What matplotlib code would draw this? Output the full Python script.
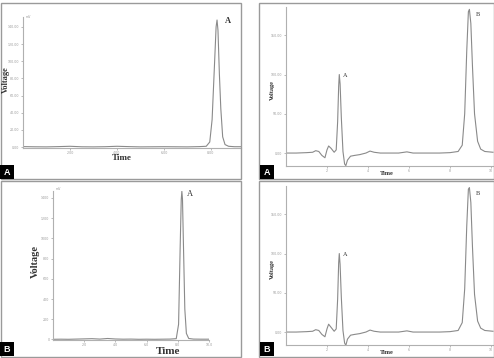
import matplotlib
matplotlib.use("Agg")
import matplotlib.pyplot as plt
from matplotlib.patches import Rectangle

W, H = 494, 358

# ---------------- data ----------------
# Panel top-left (A): single peak
tl_time = [0, 0.5, 1.0, 1.5, 2.0, 2.5, 3.0, 3.5, 4.0, 4.5, 5.0, 5.5, 6.0, 6.5, 7.0, 7.5,
           7.8, 7.95, 8.05, 8.15, 8.22, 8.26, 8.30, 8.36, 8.42, 8.5, 8.6, 8.75, 9.0, 9.3]
tl_volt = [0.6, 0.4, 0.3, 0.6, 1.0, 0.4, 0.3, 0.5, 1.0, 0.6, 0.3, 0.4, 0.5, 0.4, 0.3, 0.6,
           1.0, 6, 32, 95, 140, 148, 136, 85, 45, 12, 3, 1.0, 0.5, 0.5]
tl_xticks = [2, 4, 6, 8]
tl_yticks = [0, 20, 40, 60, 80, 100, 120, 140]

# Panel bottom-left (B): single peak
bl_time = [0, 0.5, 1.0, 1.5, 2.0, 2.5, 3.0, 3.5, 4.0, 4.5, 5.0, 5.5, 6.0, 6.5, 7.0, 7.5,
           7.9, 8.05, 8.15, 8.22, 8.26, 8.30, 8.36, 8.45, 8.55, 8.7, 9.0, 9.5, 10.0]
bl_volt = [2, 3, 2, 4, 6, 8, 4, 10, 5, 3, 4, 2, 3, 2, 3, 4,
           8, 150, 900, 1380, 1465, 1390, 950, 300, 60, 10, 4, 3, 3]
bl_xticks = [2, 4, 6, 8, 10]
bl_yticks = [0, 200, 400, 600, 800, 1000, 1200, 1400]

# Panel top-right (A): two peaks
tr_time = [0, 0.5, 1.0, 1.3, 1.45, 1.6, 1.75, 1.9, 2.0, 2.08, 2.2, 2.35, 2.45, 2.52, 2.57,
           2.6, 2.64, 2.7, 2.78, 2.86, 2.92, 3.0, 3.15, 3.35, 3.6, 3.9, 4.1, 4.3, 4.6, 5.0,
           5.5, 5.9, 6.2, 6.6, 7.0, 7.5, 8.0, 8.4, 8.6, 8.72, 8.82, 8.9, 8.95, 9.02, 9.1,
           9.2, 9.35, 9.5, 9.7, 10.1]
tr_volt = [0, 0, 0.5, 1, 3, 2, -3, -6, 4, 9, 6, 1, 4, 40, 85,
           100, 88, 45, 2, -14, -16, -9, -4, -3, -2, 0, 2.5, 1, 0, 0,
           0, 1.5, 0, 0, 0, 0, 0.5, 2, 10, 50, 130, 180, 183, 165, 110,
           50, 15, 5, 2, 1]
tr_xticks = [2, 4, 6, 8, 10]
tr_yticks = [0, 50, 100, 150]

# Panel bottom-right (B): two peaks
br_time = [0, 0.5, 1.0, 1.3, 1.45, 1.6, 1.75, 1.9, 2.0, 2.08, 2.2, 2.35, 2.45, 2.52, 2.57,
           2.6, 2.64, 2.7, 2.78, 2.86, 2.92, 3.0, 3.15, 3.35, 3.6, 3.9, 4.1, 4.3, 4.6, 5.0,
           5.5, 5.9, 6.2, 6.6, 7.0, 7.5, 8.0, 8.4, 8.6, 8.72, 8.82, 8.9, 8.95, 9.02, 9.1,
           9.2, 9.35, 9.5, 9.7, 10.1]
br_volt = [0, 0, 0.5, 1, 3, 2, -3, -6, 4, 10, 6, 1, 4, 42, 88,
           100, 86, 44, 2, -14, -17, -9, -4, -3, -2, 0, 2.5, 1, 0, 0,
           0, 1.5, 0, 0, 0, 0, 0.5, 2, 12, 55, 135, 182, 184, 165, 108,
           48, 14, 5, 2, 1]
br_xticks = [2, 4, 6, 8, 10]
br_yticks = [0, 50, 100, 150]

# ---------------- figure ----------------
fig = plt.figure(figsize=(W / 100, H / 100), dpi=100)
fig.patch.set_facecolor("white")

def fx(x):
    return x / W

def fy(y):
    return 1 - y / H

def add_ax(l, t, r, b):
    return fig.add_axes([fx(l), fy(b), (r - l) / W, (b - t) / H])

line_col = "#8a8a8a"
axis_col = "#b0b0b0"
tick_col = "#a0a0a0"

def style(ax, xticks, yticks, xlim, ylim, xfmt, yfmt):
    ax.set_xlim(*xlim)
    ax.set_ylim(*ylim)
    for s in ("top", "right"):
        ax.spines[s].set_visible(False)
    for s in ("left", "bottom"):
        ax.spines[s].set_color(axis_col)
        ax.spines[s].set_linewidth(0.8)
    ax.set_xticks(xticks)
    ax.set_yticks(yticks)
    ax.set_xticklabels([xfmt.format(v) for v in xticks])
    ax.set_yticklabels([yfmt.format(v) for v in yticks])
    ax.tick_params(axis="both", length=1.5, width=0.5, color=tick_col,
                   labelsize=2.3, labelcolor="#9a9a9a", pad=1)
    ax.set_facecolor("none")

# panel borders
border_col = "#9a9a9a"
for (l, t, r, b) in [(0.5, 3, 241, 179), (259, 3, 493.5, 179),
                     (0.5, 180.5, 241, 356.5), (259, 180.5, 493.5, 356.5)]:
    fig.patches.append(Rectangle((fx(l), fy(b)), (r - l) / W, (b - t) / H,
                                 transform=fig.transFigure, fill=False,
                                 edgecolor=border_col, linewidth=1.0))

serif = ["Liberation Serif", "DejaVu Serif"]

# ---- top-left ----
ax1 = add_ax(23, 17, 241, 148)
ax1.plot(tl_time, tl_volt, color=line_col, lw=0.8)
style(ax1, tl_xticks, tl_yticks, (0, 9.28), (-1, 151.5), "{:.2f}", "{:.2f}")
ax1.text(8.58, 147, "A", family=serif, fontweight="bold", fontsize=6, color="#333333",
         va="center", ha="left")
fig.text(fx(122), fy(158), "Time", family=serif, fontweight="bold", fontsize=6.5,
         color="#333333", ha="center", va="center")
fig.text(fx(6), fy(80), "Voltage", family=serif, fontweight="bold", fontsize=6,
         color="#333333", ha="center", va="center", rotation=90)
fig.text(fx(26), fy(17), "mV", fontsize=2.3, color="#9a9a9a", ha="left", va="center")

# ---- bottom-left ----
ax3 = add_ax(53, 191, 209, 340)
ax3.plot(bl_time, bl_volt, color=line_col, lw=0.8)
style(ax3, bl_xticks, bl_yticks, (0, 10), (-5, 1468), "{:.1f}", "{:.0f}")
ax3.text(8.6, 1440, "A", family=serif, fontsize=6, color="#333333", va="center", ha="left")
fig.text(fx(168), fy(352), "Time", family=serif, fontweight="bold", fontsize=8,
         color="#333333", ha="center", va="center")
fig.text(fx(35), fy(261), "Voltage", family=serif, fontweight="bold", fontsize=7.5,
         color="#333333", ha="center", va="center", rotation=90)
fig.text(fx(56), fy(189), "mV", fontsize=2.3, color="#9a9a9a", ha="left", va="center")

# ---- top-right ----
ax2 = add_ax(286, 7, 494, 166)
ax2.plot(tr_time, tr_volt, color=line_col, lw=0.8)
style(ax2, tr_xticks, tr_yticks, (0, 10.15), (-16.5, 186), "{:g}", "{:.2f}")
ax2.text(2.8, 99, "A", family=serif, fontsize=4.5, color="#333333", va="center", ha="left")
ax2.text(9.25, 176, "B", family=serif, fontsize=4.5, color="#333333", va="center", ha="left")
fig.text(fx(387), fy(173), "Time", family=serif, fontweight="bold", fontsize=4.5,
         color="#333333", ha="center", va="center")
fig.text(fx(272), fy(90), "Voltage", family=serif, fontweight="bold", fontsize=4.5,
         color="#333333", ha="center", va="center", rotation=90)

# ---- bottom-right ----
ax4 = add_ax(286, 186, 494, 345)
ax4.plot(br_time, br_volt, color=line_col, lw=0.8)
style(ax4, br_xticks, br_yticks, (0, 10.15), (-16.5, 186), "{:g}", "{:.2f}")
ax4.text(2.8, 99, "A", family=serif, fontsize=4.5, color="#333333", va="center", ha="left")
ax4.text(9.25, 176, "B", family=serif, fontsize=4.5, color="#333333", va="center", ha="left")
fig.text(fx(387), fy(352), "Time", family=serif, fontweight="bold", fontsize=4.5,
         color="#333333", ha="center", va="center")
fig.text(fx(272), fy(269), "Voltage", family=serif, fontweight="bold", fontsize=4.5,
         color="#333333", ha="center", va="center", rotation=90)

# ---- corner labels ----
for (l, t, lab) in [(0, 165, "A"), (260, 165, "A"), (0, 342, "B"), (260, 342, "B")]:
    fig.patches.append(Rectangle((fx(l), fy(t + 14)), 14 / W, 14 / H,
                                 transform=fig.transFigure, facecolor="black",
                                 edgecolor="none"))
    fig.text(fx(l + 7), fy(t + 7), lab, color="white", fontsize=6.5, fontweight="bold",
             ha="center", va="center", family=["Liberation Sans", "DejaVu Sans"])

fig.savefig("out.png", dpi=100, facecolor="white")
